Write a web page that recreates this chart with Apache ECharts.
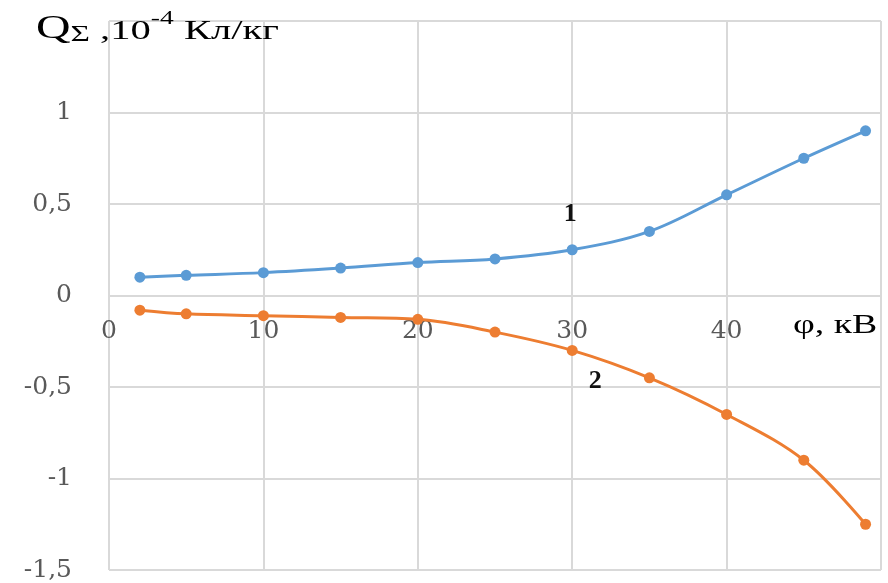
<!DOCTYPE html>
<html>
<head>
<meta charset="utf-8">
<script src="https://cdn.jsdelivr.net/npm/echarts@6/dist/echarts.min.js"></script>
<style>
  html, body { margin: 0; padding: 0; background: #fff; }
  #chart { width: 888px; height: 583px; }
</style>
</head>
<body>
<div id="chart"></div>
<script>
// Applied voltage, kV
const voltage = [2, 5, 10, 15, 20, 25, 30, 35, 40, 45, 49];
// Specific charge, 10^-4 C/kg
const curve1 = [0.1, 0.11, 0.125, 0.15, 0.18, 0.2, 0.25, 0.35, 0.55, 0.75, 0.9];
const curve2 = [-0.08, -0.1, -0.11, -0.12, -0.13, -0.2, -0.3, -0.45, -0.65, -0.9, -1.25];
const curveNames = ['1', '2'];
// Axis ranges and tick steps
const xTicks = { min: 0, max: 50, step: 10 };
const yTicks = { min: -1.5, max: 1.5, step: 0.5 };
const labelledIndex = 6; // the point at 30 kV carries each curve's number

const serif = '"Liberation Serif", "DejaVu Serif", serif';
const wideSerif = '"DejaVu Serif", "Liberation Serif", serif';
const gridColor = '#d9d9d9';
const tickColor = '#595959';

const W = 888, H = 583;
const grid = { left: 109, right: 7, top: 21, bottom: 13 };
// the voltage labels sit along the zero line, so lift the bottom axis up to it
const plotH = H - grid.top - grid.bottom;
const zeroLift = plotH * (0 - yTicks.min) / (yTicks.max - yTicks.min);

function pairs(ys) {
  return voltage.map((x, i) => ({ value: [x, ys[i]] }));
}

const curveLabel = { fontFamily: serif, fontSize: 26, fontWeight: 'bold', color: '#111' };
const data1 = pairs(curve1);
data1[labelledIndex].label = Object.assign({
  show: true, formatter: curveNames[0], position: 'top', offset: [-2, -12]
}, curveLabel);
const data2 = pairs(curve2);
data2[labelledIndex].label = Object.assign({
  show: true, formatter: curveNames[1], position: 'bottom', offset: [23, 7]
}, curveLabel);

const chart = echarts.init(document.getElementById('chart'), null, { renderer: 'canvas' });
chart.setOption({
  animation: false,
  backgroundColor: '#fff',
  grid: Object.assign({ containLabel: false, outerBoundsMode: 'none' }, grid),
  xAxis: {
    type: 'value',
    position: 'bottom',
    offset: -zeroLift,
    min: xTicks.min, max: xTicks.max, interval: xTicks.step,
    axisLine: { show: false, onZero: false },
    axisTick: { show: false },
    axisLabel: {
      margin: 23,
      hideOverlap: false,
      fontFamily: wideSerif, fontSize: 25, color: tickColor,
      formatter: v => (v >= xTicks.max ? '' : String(v))
    },
    splitLine: { show: true, lineStyle: { color: gridColor, width: 2 } }
  },
  yAxis: {
    type: 'value',
    min: yTicks.min, max: yTicks.max, interval: yTicks.step,
    axisLine: { show: false, onZero: false },
    axisTick: { show: false },
    axisLabel: {
      margin: 37,
      fontFamily: wideSerif, fontSize: 25, color: tickColor,
      formatter: v => (v >= yTicks.max ? '' : String(v).replace('.', ','))
    },
    splitLine: { show: true, lineStyle: { color: gridColor, width: 2 } }
  },
  graphic: [
    {
      // axis title of the charge scale
      type: 'text',
      x: 36, y: 10,
      scaleX: 1.45,
      z: 10,
      style: {
        text: '{q|Q}{s|Σ}{n| ,10}{sup|-4}{n| Кл/кг}',
        fill: '#000',
        rich: {
          q: { font: '33px ' + serif, fill: '#000', verticalAlign: 'bottom', lineHeight: 36 },
          s: { font: '23px ' + serif, fill: '#000', verticalAlign: 'bottom', lineHeight: 33 },
          n: { font: '28px ' + serif, fill: '#000', verticalAlign: 'bottom', lineHeight: 35 },
          sup: { font: '19px ' + serif, fill: '#000', verticalAlign: 'top', lineHeight: 20 }
        }
      }
    },
    {
      // axis title of the voltage scale
      type: 'text',
      x: 793, y: 312,
      scaleX: 1.4,
      style: { text: 'φ, кВ', font: '27px ' + serif, fill: '#000' }
    }
  ],
  series: [
    {
      name: curveNames[0], type: 'line', smooth: 0.35,
      data: data1,
      symbol: 'circle', symbolSize: 11,
      lineStyle: { color: '#5b9bd5', width: 3 },
      itemStyle: { color: '#5b9bd5' }
    },
    {
      name: curveNames[1], type: 'line', smooth: 0.35,
      data: data2,
      symbol: 'circle', symbolSize: 11,
      lineStyle: { color: '#ed7d31', width: 3 },
      itemStyle: { color: '#ed7d31' }
    }
  ]
});
</script>
</body>
</html>
